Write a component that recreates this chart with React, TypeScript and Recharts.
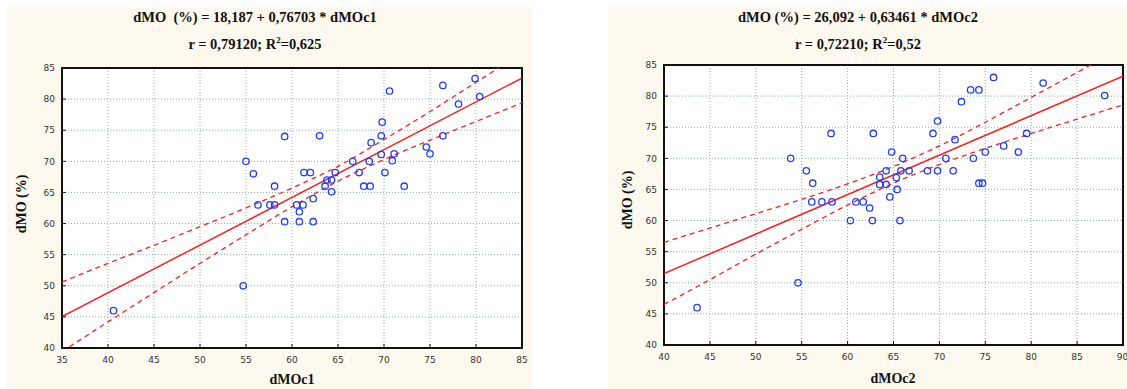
import React from 'react'
import {
  ComposedChart,
  Scatter,
  Line,
  XAxis,
  YAxis,
  CartesianGrid,
  ReferenceArea,
} from 'recharts'

// observed pairs (dMOc, dMO %)
const pointsC1: [number, number][] = [
  [40.6, 46], [54.7, 50], [55, 70], [55.8, 68], [56.3, 63], [57.6, 63], [58.1, 63],
  [58.1, 66], [59.2, 74], [59.2, 60.3], [60.5, 63], [60.8, 61.9], [60.8, 60.3],
  [61.2, 63], [62.3, 60.3], [62.3, 64], [61.3, 68.2], [62, 68.2], [63, 74.1],
  [63.6, 66], [63.8, 67], [64.3, 67], [64.3, 65.1], [64.7, 68.2], [66.6, 70],
  [67.3, 68.2], [67.8, 66], [68.5, 66], [68.4, 70], [68.6, 73], [69.7, 74.1],
  [69.8, 76.3], [69.7, 71.1], [70.1, 68.2], [70.9, 70.1], [71.1, 71.2], [70.6, 81.3],
  [72.2, 66], [74.6, 72.3], [75, 71.2], [76.4, 74.1], [76.4, 82.2], [78.1, 79.2],
  [79.9, 83.3], [80.4, 80.4],
]

const pointsC2: [number, number][] = [
  [43.6, 46], [54.6, 50], [53.8, 70], [55.5, 68], [56.2, 66], [56.1, 63], [57.2, 63],
  [58.3, 63], [58.2, 74], [60.3, 60], [60.9, 63], [61.7, 63], [62.4, 62], [62.7, 60],
  [62.8, 74], [63.5, 67], [63.5, 65.8], [64.2, 65.8], [64.2, 68], [64.6, 63.8],
  [64.8, 71], [65.3, 66.9], [65.4, 65], [65.7, 60], [65.8, 68], [66, 70], [66.7, 68],
  [68.7, 68], [69.3, 74], [69.8, 76], [69.8, 68], [70.7, 70], [71.5, 68], [71.7, 73],
  [72.4, 79.1], [73.4, 81], [73.7, 70], [74.3, 81], [74.3, 66], [74.7, 66], [75, 71],
  [75.9, 83], [77, 72], [78.6, 71], [79.5, 74], [81.3, 82.1], [88, 80.1],
]

// regression coefficients
const fitC1 = { a: 18.187, b: 0.76703 }
const fitC2 = { a: 26.092, b: 0.63461 }

// 95% confidence band, read at each x tick
const bandXC1 = [35, 40, 45, 50, 55, 60, 65, 70, 75, 80, 85]
const upperC1 = [50.6, 53.6, 56.5, 59.5, 62.5, 65.7, 69.2, 73.5, 78.0, 82.7, 87.4]
const lowerC1 = [39.4, 44.2, 48.9, 53.6, 58.2, 62.7, 66.8, 70.3, 73.4, 76.4, 79.4]

const bandXC2 = [40, 45, 50, 55, 60, 65, 70, 75, 80, 85, 90]
const upperC2 = [56.5, 58.8, 61.1, 63.4, 65.9, 68.7, 72.0, 75.8, 79.8, 83.8, 87.9]
const lowerC2 = [46.5, 50.5, 54.6, 58.6, 62.5, 66.0, 69.0, 71.6, 74.0, 76.3, 78.6]

const yTicks = [40, 45, 50, 55, 60, 65, 70, 75, 80, 85]
const xTicksC1 = [35, 40, 45, 50, 55, 60, 65, 70, 75, 80, 85]
const xTicksC2 = [40, 45, 50, 55, 60, 65, 70, 75, 80, 85, 90]

const RED = '#ff1e1e'
const BLUE = '#1f3dff'
const CREAM = '#fdf9ee'
const GRID = '#93abab'

const tickStyle = { fontSize: 9, fill: '#333', fontFamily: 'DejaVu Sans' }
const serif = '"Liberation Serif", "Times New Roman", serif'

const OpenCircle = (props: any) => {
  const { cx, cy } = props
  if (cx == null || cy == null) return null
  return <circle cx={cx} cy={cy} r={3.2} fill="none" stroke={BLUE} strokeWidth={1.3} />
}

const toXY = (pairs: [number, number][]) => pairs.map(([x, y]) => ({ x, y }))
const band = (xs: number[], ys: number[]) => xs.map((x, i) => ({ x, y: ys[i] }))

interface PanelProps {
  left: number
  width: number
  plot: { l: number; r: number; t: number; b: number }
  xDomain: [number, number]
  xTicks: number[]
  points: [number, number][]
  fit: { a: number; b: number }
  bandX: number[]
  upper: number[]
  lower: number[]
}

function Panel({ left, width, plot, xDomain, xTicks, points, fit, bandX, upper, lower }: PanelProps) {
  const height = 389
  const yw = 30
  const xh = 30
  const fitLine = xDomain.map((x) => ({ x, y: fit.a + fit.b * x }))
  return (
    <div style={{ position: 'absolute', left, top: 0, width, height }}>
      <ComposedChart
        width={width}
        height={height}
        margin={{
          left: plot.l - yw,
          right: width - plot.r,
          top: plot.t,
          bottom: height - plot.b - xh,
        }}
      >
        <CartesianGrid stroke={GRID} strokeDasharray="1 2" fill="#fff" fillOpacity={1} />
        <XAxis
          dataKey="x"
          type="number"
          domain={xDomain}
          ticks={xTicks}
          allowDataOverflow
          height={xh}
          axisLine={false}
          tickSize={-4}
          tickMargin={13}
          tickLine={{ stroke: '#111' }}
          tick={tickStyle}
        />
        <YAxis
          dataKey="y"
          type="number"
          domain={[40, 85]}
          ticks={yTicks}
          allowDataOverflow
          width={yw}
          axisLine={false}
          tickSize={-4}
          tickMargin={11}
          tickLine={{ stroke: '#111' }}
          tick={tickStyle}
        />
        <Line data={band(bandX, upper)} dataKey="y" type="monotone" stroke={RED}
          strokeWidth={1.3} strokeDasharray="5 4" dot={false} isAnimationActive={false} />
        <Line data={band(bandX, lower)} dataKey="y" type="monotone" stroke={RED}
          strokeWidth={1.3} strokeDasharray="5 4" dot={false} isAnimationActive={false} />
        <Line data={fitLine} dataKey="y" type="linear" stroke={RED}
          strokeWidth={1.5} dot={false} isAnimationActive={false} />
        <Scatter data={toXY(points)} dataKey="y" shape={OpenCircle} isAnimationActive={false} />
        <ReferenceArea
          x1={xDomain[0]}
          x2={xDomain[1]}
          y1={40}
          y2={85}
          fill="none"
          stroke="#111"
          strokeWidth={2}
        />
      </ComposedChart>
    </div>
  )
}

const Title = ({ x, y, children }: { x: number; y: number; children: React.ReactNode }) => (
  <div
    style={{
      position: 'absolute',
      left: x - 200,
      top: y - 10,
      width: 400,
      textAlign: 'center',
      fontFamily: serif,
      fontWeight: 'bold',
      fontSize: 14.5,
      lineHeight: '20px',
      color: '#111',
      whiteSpace: 'nowrap',
    }}
  >
    {children}
  </div>
)

const AxisLabel = ({ x, y, rotate, children }: { x: number; y: number; rotate?: boolean; children: React.ReactNode }) => (
  <div
    style={{
      position: 'absolute',
      left: x - 60,
      top: y - 10,
      width: 120,
      textAlign: 'center',
      fontFamily: serif,
      fontWeight: 'bold',
      fontSize: 14,
      lineHeight: '20px',
      color: '#111',
      whiteSpace: 'nowrap',
      transform: rotate ? 'rotate(-90deg)' : undefined,
    }}
  >
    {children}
  </div>
)

const sup = { fontSize: 9, lineHeight: 0 }

export default function App() {
  return (
    <div style={{ position: 'absolute', left: 0, top: 0, width: 1127, height: 389, background: '#fff', overflow: 'hidden' }}>
      <div style={{ position: 'absolute', left: 7, top: 7, width: 525, height: 382, background: CREAM }} />
      <div style={{ position: 'absolute', left: 608, top: 7, width: 519, height: 382, background: CREAM }} />

      <Panel
        left={0}
        width={540}
        plot={{ l: 62, r: 522, t: 68, b: 348 }}
        xDomain={[35, 85]}
        xTicks={xTicksC1}
        points={pointsC1}
        fit={fitC1}
        bandX={bandXC1}
        upper={upperC1}
        lower={lowerC1}
      />
      <Panel
        left={560}
        width={567}
        plot={{ l: 104, r: 563, t: 65, b: 345 }}
        xDomain={[40, 90]}
        xTicks={xTicksC2}
        points={pointsC2}
        fit={fitC2}
        bandX={bandXC2}
        upper={upperC2}
        lower={lowerC2}
      />

      <Title x={255} y={17}>dMO&nbsp; (%) = 18,187 + 0,76703 * dMOc1</Title>
      <Title x={255} y={44}>r = 0,79120; R<sup style={sup}>2</sup>=0,625</Title>
      <Title x={858} y={17}>dMO (%) = 26,092 + 0,63461 * dMOc2</Title>
      <Title x={858} y={44}>r = 0,72210; R<sup style={sup}>2</sup>=0,52</Title>

      <AxisLabel x={22} y={204} rotate>dMO (%)</AxisLabel>
      <AxisLabel x={628} y={200} rotate>dMO (%)</AxisLabel>
      <AxisLabel x={292} y={380}>dMOc1</AxisLabel>
      <AxisLabel x={893} y={379}>dMOc2</AxisLabel>
    </div>
  )
}
